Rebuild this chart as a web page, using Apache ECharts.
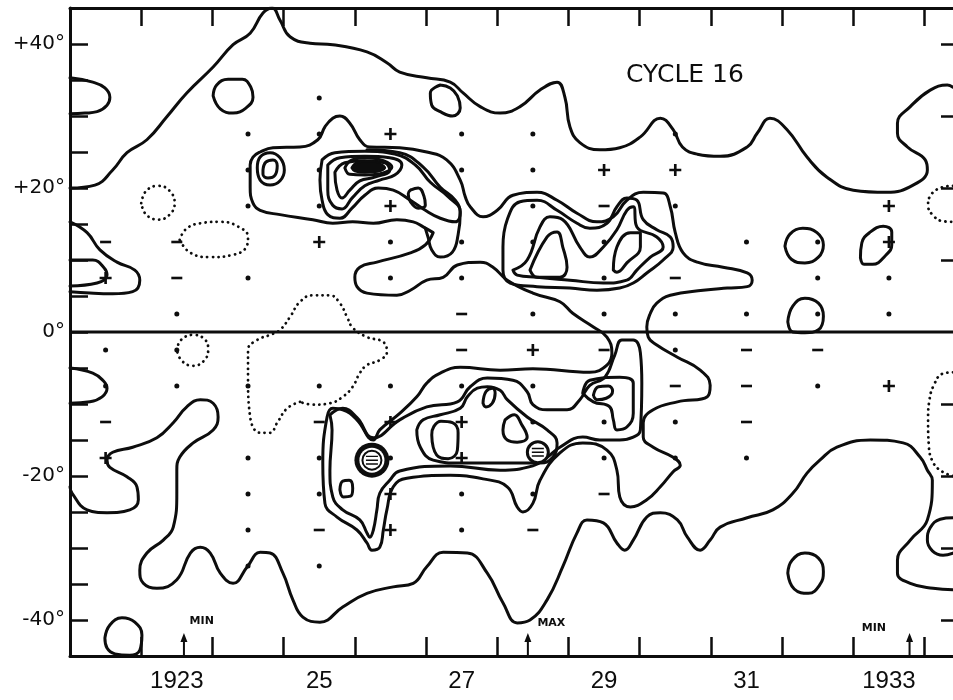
<!DOCTYPE html>
<html lang="en">
<head>
<meta charset="utf-8">
<title>Cycle 16</title>
<script src="https://cdn.jsdelivr.net/npm/echarts@6/dist/echarts.min.js"></script>
<style>
  html, body { margin: 0; padding: 0; background: #fff; }
  #chart { width: 953px; height: 700px; }
</style>
</head>
<body>
<div id="chart"></div>
<script>
// ---- axis values ----
var yearTicks = [1923, 1924, 1925, 1926, 1927, 1928, 1929, 1930, 1931, 1932, 1933, 1934];
var yearLabelPos = [1923.5, 1925.5, 1927.5, 1929.5, 1931.5, 1933.5];
var yearLabelText = ['1923', '25', '27', '29', '31', '1933'];
var latLabelPos = [40, 20, 0, -20, -40];
var latLabelText = ['+40°', '+20°', '0°', '-20°', '-40°'];
var rightTicks = [-40, -30, -20, -10, 10, 20, 30, 40];

// ---- solid contours [year, latitude] ----
var northBoundary = [[1922.00,20.0],[1922.35,20.4],[1922.60,22.5],[1922.80,24.9],[1923.08,26.7],[1923.36,29.9],[1923.64,33.2],[1924.01,36.8],[1924.29,39.9],[1924.53,41.5],[1924.71,44.3],[1924.84,45.0],[1924.95,43.3],[1925.09,41.0],[1925.37,40.1],[1925.69,39.9],[1926.17,38.9],[1926.45,37.4],[1926.63,36.1],[1927.01,35.3],[1927.34,34.7],[1927.52,33.2],[1927.76,31.3],[1928.04,30.4],[1928.32,31.3],[1928.60,33.6],[1928.84,34.7],[1928.95,32.6],[1929.02,28.5],[1929.16,26.3],[1929.44,25.3],[1929.72,25.6],[1930.01,27.1],[1930.29,29.7],[1930.47,28.1],[1930.60,25.7],[1930.81,24.7],[1931.13,24.4],[1931.51,25.7],[1931.65,27.6],[1931.83,29.7],[1932.07,28.1],[1932.35,24.3],[1932.63,21.5],[1933.00,19.7],[1933.47,19.4],[1933.84,20.4],[1934.04,22.5],[1934.01,23.9],[1933.76,25.7],[1933.62,27.6],[1933.62,29.0],[1933.80,31.3],[1934.08,33.6],[1934.32,34.3],[1934.40,34.0]];
var lobeTopLeft = [[1922.00,35.3],[1922.32,34.7],[1922.49,33.9],[1922.56,32.6],[1922.52,31.5],[1922.38,30.6],[1922.21,30.4],[1922.00,30.3]];
var loop1924N = [[1924.01,32.8],[1924.06,34.3],[1924.22,35.1],[1924.42,35.1],[1924.54,34.0],[1924.57,32.6],[1924.47,31.1],[1924.29,30.4],[1924.11,31.0],[1924.01,32.8]];
var loop1927N = [[1927.20,34.3],[1927.06,33.2],[1927.08,31.5],[1927.20,30.6],[1927.37,30.0],[1927.48,31.1],[1927.44,32.8],[1927.34,33.9],[1927.20,34.3]];
var lobeLeft10 = [[1922.00,15.3],[1922.24,13.8],[1922.42,11.4],[1922.66,9.7],[1922.91,8.6],[1922.98,7.2],[1922.88,5.6],[1922.60,5.3],[1922.28,5.4],[1922.00,5.6]];
var lobeLeft10In = [[1922.00,10.0],[1922.32,10.0],[1922.48,8.9],[1922.52,7.9],[1922.38,6.8],[1922.00,6.4]];
var butterflyOuter = [[1927.10,13.8],[1926.99,12.1],[1926.78,11.0],[1926.31,9.7],[1926.07,9.0],[1926.00,7.6],[1926.03,6.3],[1926.17,5.4],[1926.59,5.1],[1926.78,5.8],[1927.01,7.2],[1927.24,7.6],[1927.44,9.3],[1927.76,9.7],[1927.94,9.0],[1928.14,7.2],[1928.50,5.4],[1928.88,4.2],[1929.06,2.6],[1929.35,0.7],[1929.54,-0.7],[1929.61,-2.9],[1929.54,-4.6],[1929.30,-5.6],[1928.50,-5.1],[1928.04,-5.3],[1927.48,-4.9],[1927.20,-5.7],[1927.01,-7.1],[1926.87,-9.0],[1926.63,-11.3],[1926.35,-13.6],[1926.26,-15.0],[1926.03,-12.2],[1925.83,-10.8],[1925.69,-10.6],[1925.61,-11.8],[1925.55,-18.2],[1925.58,-23.8],[1925.75,-25.7],[1926.03,-27.5],[1926.17,-29.3],[1926.24,-30.3],[1926.35,-29.9],[1926.40,-27.5],[1926.45,-24.7],[1926.54,-21.5],[1926.73,-20.3],[1927.34,-19.9],[1927.80,-20.4],[1928.14,-21.5],[1928.28,-24.3],[1928.36,-25.0],[1928.50,-23.8],[1928.60,-20.6],[1928.88,-16.8],[1929.20,-15.4],[1929.54,-16.4],[1929.68,-19.2],[1929.72,-22.9],[1929.87,-24.3],[1930.10,-23.3],[1930.29,-21.5],[1930.47,-19.4],[1930.57,-18.5],[1930.47,-17.4],[1930.19,-16.0],[1930.05,-14.6],[1930.05,-12.6],[1930.19,-10.8],[1930.53,-9.7],[1930.95,-9.0],[1930.99,-7.4],[1930.85,-5.3],[1930.53,-3.5],[1930.24,-1.8],[1930.12,-0.7],[1930.10,0.7],[1930.15,2.6],[1930.24,4.0],[1930.43,5.1],[1930.89,5.8],[1931.23,6.1],[1931.51,6.3],[1931.58,7.2],[1931.51,8.2],[1931.17,9.0],[1930.81,9.7],[1930.61,11.0],[1930.50,13.8],[1930.43,17.4],[1930.33,19.3],[1930.05,19.4],[1929.82,18.3],[1929.63,16.0],[1929.40,15.3],[1929.12,16.5],[1928.84,18.3],[1928.56,19.4],[1928.22,19.0],[1928.00,16.9],[1927.80,16.0],[1927.62,17.4],[1927.55,18.8],[1927.48,21.1],[1927.29,23.9],[1927.01,25.0],[1926.63,25.6],[1926.21,25.7],[1926.07,26.7],[1925.93,29.0],[1925.79,30.0],[1925.69,29.7],[1925.58,28.5],[1925.48,26.7],[1925.23,25.7],[1924.85,25.6],[1924.67,25.0],[1924.57,24.3],[1924.53,23.2],[1924.53,20.1],[1924.57,17.9],[1924.67,16.9],[1924.95,16.3],[1925.41,15.6],[1925.69,15.1],[1925.97,15.3],[1926.26,15.1],[1926.59,15.6],[1926.82,15.3],[1926.96,14.6],[1927.10,13.8]];
var northTongue = [[1926.17,25.3],[1926.63,24.9],[1926.96,22.9],[1927.20,20.1],[1927.41,18.3],[1927.48,16.5],[1927.45,13.5],[1927.37,11.1],[1927.20,10.4],[1927.08,11.4],[1927.03,13.1],[1926.99,14.4]];
var loop1925Out = [[1924.63,22.8],[1924.67,24.3],[1924.81,24.9],[1924.95,24.2],[1925.01,22.5],[1924.95,21.0],[1924.81,20.4],[1924.67,21.1],[1924.63,22.8]];
var loop1925In = [[1924.71,22.5],[1924.75,23.6],[1924.85,23.9],[1924.91,23.1],[1924.88,21.8],[1924.78,21.4],[1924.71,21.9],[1924.71,22.5]];
var coreN2 = [[1925.54,23.9],[1925.72,24.9],[1926.14,25.1],[1926.56,24.7],[1926.85,23.2],[1927.06,20.8],[1927.31,18.8],[1927.48,16.7],[1927.41,15.3],[1927.20,15.8],[1926.99,16.9],[1926.78,18.3],[1926.54,19.7],[1926.33,20.0],[1926.14,19.0],[1925.96,17.2],[1925.79,15.8],[1925.62,16.3],[1925.54,18.3],[1925.51,21.1],[1925.54,23.9]];
var coreN3 = [[1925.62,23.2],[1925.79,24.2],[1926.14,24.4],[1926.49,24.2],[1926.66,23.2],[1926.56,21.8],[1926.35,21.1],[1926.14,20.3],[1925.96,18.6],[1925.82,17.1],[1925.69,17.6],[1925.62,19.7],[1925.62,23.2]];
var coreN4 = [[1925.72,22.2],[1925.86,23.5],[1926.14,23.8],[1926.42,23.5],[1926.49,22.5],[1926.28,21.5],[1926.07,21.0],[1925.93,19.7],[1925.82,18.6],[1925.75,19.7],[1925.72,22.2]];
var coreK1 = [[1925.86,22.8],[1925.96,23.9],[1926.17,24.2],[1926.40,23.8],[1926.52,22.9],[1926.40,22.1],[1926.14,21.8],[1925.93,21.9],[1925.86,22.8]];
var coreK2 = [[1925.96,22.8],[1926.04,23.5],[1926.19,23.6],[1926.35,23.3],[1926.41,22.8],[1926.33,22.4],[1926.14,22.2],[1926.00,22.4],[1925.96,22.8]];
var coreK3 = [[1926.04,22.8],[1926.16,23.2],[1926.30,23.1],[1926.33,22.8],[1926.21,22.5],[1926.07,22.5],[1926.04,22.8]];
var loop1927Core = [[1926.78,19.7],[1926.89,20.0],[1926.97,18.9],[1926.99,17.6],[1926.89,17.2],[1926.78,18.1],[1926.75,19.2],[1926.78,19.7]];
var midN2 = [[1928.08,11.8],[1928.14,15.6],[1928.32,18.1],[1928.56,18.3],[1928.84,16.9],[1929.12,15.1],[1929.30,14.4],[1929.54,15.1],[1929.68,17.4],[1929.82,18.6],[1929.96,18.3],[1930.05,15.6],[1930.24,14.2],[1930.43,13.2],[1930.47,11.8],[1930.33,10.0],[1930.10,8.2],[1929.91,6.8],[1929.72,6.1],[1929.40,5.8],[1929.02,6.1],[1928.56,6.3],[1928.18,6.8],[1928.08,8.6],[1928.08,11.8]];
var midN3 = [[1928.22,8.6],[1928.42,10.0],[1928.60,14.6],[1928.74,16.0],[1928.92,15.6],[1929.16,11.8],[1929.30,10.4],[1929.49,11.8],[1929.68,14.2],[1929.82,16.9],[1929.91,17.4],[1929.96,14.6],[1930.24,13.2],[1930.33,11.8],[1930.15,10.4],[1929.96,8.6],[1929.82,7.2],[1929.49,6.8],[1929.02,7.2],[1928.56,7.6],[1928.28,7.9],[1928.22,8.6]];
var midInnerA = [[1928.46,8.6],[1928.70,13.2],[1928.84,13.9],[1928.92,11.8],[1928.98,9.0],[1928.88,7.6],[1928.56,7.6],[1928.46,8.6]];
var midInnerB = [[1929.63,8.6],[1929.68,11.8],[1929.87,13.8],[1930.01,13.8],[1930.01,11.8],[1929.82,9.6],[1929.68,8.3],[1929.63,8.6]];
var loop1932N = [[1932.04,11.9],[1932.11,13.6],[1932.29,14.4],[1932.49,13.8],[1932.58,12.1],[1932.51,10.4],[1932.32,9.6],[1932.13,10.1],[1932.04,11.9]];
var loop1933N = [[1933.10,10.3],[1933.12,12.4],[1933.24,13.9],[1933.42,14.7],[1933.54,13.9],[1933.54,12.1],[1933.45,10.6],[1933.27,9.4],[1933.15,9.4],[1933.10,10.3]];
var loopEquator = [[1932.08,1.4],[1932.15,3.6],[1932.32,4.7],[1932.51,4.0],[1932.58,2.2],[1932.51,0.3],[1932.32,-0.1],[1932.15,0.0],[1932.08,1.4]];
var lobeLeftS5 = [[1922.00,-5.0],[1922.32,-5.7],[1922.46,-6.7],[1922.52,-7.8],[1922.45,-9.0],[1922.28,-9.7],[1922.00,-9.9]];
var southBoundary = [[1922.00,-21.5],[1922.03,-22.4],[1922.24,-24.7],[1922.52,-25.1],[1922.84,-24.7],[1922.96,-23.3],[1922.94,-21.5],[1922.80,-20.1],[1922.56,-18.8],[1922.52,-17.8],[1922.60,-16.7],[1922.88,-16.0],[1923.22,-14.7],[1923.45,-12.6],[1923.64,-10.4],[1923.83,-9.4],[1924.01,-9.9],[1924.08,-11.8],[1924.01,-13.6],[1923.73,-15.4],[1923.54,-17.4],[1923.50,-19.2],[1923.50,-22.4],[1923.45,-27.1],[1923.31,-28.9],[1923.08,-30.7],[1922.98,-33.1],[1923.03,-34.9],[1923.22,-35.6],[1923.50,-34.4],[1923.69,-30.7],[1923.83,-29.9],[1923.97,-30.7],[1924.11,-33.5],[1924.29,-34.9],[1924.49,-32.6],[1924.67,-30.6],[1924.81,-30.7],[1924.99,-33.5],[1925.13,-37.2],[1925.27,-39.6],[1925.51,-40.3],[1925.83,-38.2],[1926.17,-36.3],[1926.54,-35.4],[1926.82,-34.9],[1927.01,-32.6],[1927.24,-30.6],[1927.58,-30.7],[1927.86,-33.5],[1928.08,-37.6],[1928.28,-40.4],[1928.46,-40.0],[1928.70,-37.2],[1928.92,-32.6],[1929.12,-27.9],[1929.26,-26.1],[1929.49,-26.5],[1929.68,-29.3],[1929.79,-30.3],[1929.91,-28.9],[1930.10,-25.7],[1930.29,-25.1],[1930.53,-26.1],[1930.67,-28.5],[1930.85,-30.3],[1930.99,-28.9],[1931.13,-27.1],[1931.51,-25.8],[1931.87,-24.7],[1932.15,-22.4],[1932.35,-19.6],[1932.53,-17.8],[1932.77,-16.0],[1933.24,-15.0],[1933.70,-15.4],[1933.94,-17.4],[1934.04,-19.2],[1934.11,-20.6],[1934.04,-26.1],[1933.80,-28.9],[1933.62,-31.7],[1933.62,-33.5],[1933.80,-34.9],[1934.12,-35.6],[1934.40,-35.8]];
var loop1922S = [[1922.49,-42.5],[1922.56,-40.7],[1922.73,-39.7],[1922.91,-40.3],[1923.01,-42.1],[1922.98,-44.2],[1922.84,-44.9],[1922.63,-44.7],[1922.52,-43.9],[1922.49,-42.5]];
var loop1932S = [[1932.08,-33.5],[1932.14,-31.7],[1932.32,-30.7],[1932.51,-31.4],[1932.58,-33.3],[1932.53,-35.1],[1932.37,-36.3],[1932.17,-35.7],[1932.08,-33.5]];
var loopRightS = [[1934.40,-25.8],[1934.22,-26.0],[1934.08,-27.2],[1934.04,-28.9],[1934.11,-30.4],[1934.26,-31.0],[1934.40,-30.7]];
var southL2 = [[1925.65,-11.5],[1925.83,-10.6],[1926.03,-11.9],[1926.26,-14.7],[1926.63,-12.2],[1927.01,-10.4],[1927.44,-9.7],[1927.62,-7.6],[1927.86,-6.4],[1928.22,-6.7],[1928.42,-8.3],[1928.50,-10.1],[1928.70,-10.8],[1928.98,-10.8],[1929.16,-9.4],[1929.30,-7.4],[1929.51,-6.3],[1929.65,-3.2],[1929.75,-1.1],[1929.91,-1.1],[1930.01,-2.9],[1930.03,-7.1],[1930.01,-13.6],[1929.91,-14.6],[1929.72,-15.0],[1929.44,-15.0],[1929.20,-14.6],[1928.88,-16.0],[1928.70,-17.4],[1928.50,-18.6],[1928.04,-19.2],[1927.34,-18.6],[1926.63,-19.3],[1926.49,-20.6],[1926.35,-22.4],[1926.31,-24.7],[1926.26,-27.5],[1926.21,-28.5],[1926.17,-27.9],[1926.07,-26.1],[1925.83,-24.7],[1925.69,-22.9],[1925.65,-19.2],[1925.68,-13.6],[1925.65,-11.5]];
var southL3 = [[1926.87,-13.6],[1926.92,-16.0],[1927.10,-17.8],[1927.48,-18.2],[1928.60,-18.2],[1928.78,-17.4],[1928.84,-15.4],[1928.70,-13.6],[1928.42,-11.8],[1928.14,-9.4],[1928.04,-8.1],[1927.86,-7.6],[1927.72,-7.8],[1927.58,-9.0],[1927.48,-10.6],[1927.20,-11.5],[1926.96,-12.2],[1926.87,-13.6]];
var loop1927S = [[1927.08,-14.3],[1927.11,-13.1],[1927.21,-12.4],[1927.37,-12.6],[1927.45,-14.0],[1927.44,-16.4],[1927.31,-17.6],[1927.15,-17.1],[1927.08,-14.3]];
var loop1927Small = [[1927.80,-9.9],[1927.84,-8.3],[1927.93,-7.8],[1927.97,-8.5],[1927.93,-9.9],[1927.84,-10.4],[1927.80,-9.9]];
var loop1928S = [[1928.11,-12.2],[1928.24,-11.5],[1928.34,-12.8],[1928.42,-14.6],[1928.28,-15.3],[1928.14,-15.0],[1928.08,-13.6],[1928.11,-12.2]];
var loop1925S = [[1925.79,-21.9],[1925.83,-20.7],[1925.92,-20.6],[1925.97,-21.7],[1925.94,-22.8],[1925.84,-22.9],[1925.79,-21.9]];
var southEast3 = [[1929.20,-8.5],[1929.30,-6.7],[1929.72,-6.3],[1929.91,-7.1],[1929.91,-11.3],[1929.82,-13.2],[1929.68,-13.6],[1929.63,-12.2],[1929.58,-10.4],[1929.35,-9.7],[1929.20,-8.5]];
var southEast4 = [[1929.35,-8.8],[1929.42,-7.6],[1929.56,-7.5],[1929.62,-8.2],[1929.53,-9.2],[1929.40,-9.4],[1929.35,-8.8]];

// ---- dotted contours ----
var dotN1923 = [[1923.00,17.9],[1923.07,19.6],[1923.24,20.3],[1923.40,19.6],[1923.47,17.9],[1923.40,16.3],[1923.24,15.6],[1923.07,16.3],[1923.00,17.9]];
var dotN1924 = [[1923.54,12.8],[1923.63,14.3],[1923.83,15.1],[1924.11,15.3],[1924.35,14.7],[1924.50,13.2],[1924.47,11.7],[1924.28,10.7],[1923.97,10.4],[1923.69,11.0],[1923.54,12.8]];
var dotNRight = [[1934.40,20.3],[1934.22,20.0],[1934.08,18.9],[1934.05,17.6],[1934.11,16.3],[1934.25,15.4],[1934.40,15.3]];
var dotEquator1925 = [[1925.23,-9.7],[1925.05,-10.6],[1924.91,-12.6],[1924.81,-14.0],[1924.67,-14.0],[1924.53,-11.8],[1924.50,-6.3],[1924.50,-2.5],[1924.63,-1.1],[1924.81,-0.4],[1924.95,0.3],[1925.09,2.1],[1925.23,4.2],[1925.41,5.1],[1925.65,5.1],[1925.79,4.0],[1925.89,2.1],[1925.97,0.6],[1926.17,-0.7],[1926.40,-1.4],[1926.45,-2.8],[1926.35,-3.9],[1926.17,-4.6],[1926.07,-5.7],[1925.97,-7.6],[1925.83,-9.0],[1925.65,-9.9],[1925.41,-10.1],[1925.23,-9.7]];
var dotS1923 = [[1923.50,-2.5],[1923.56,-1.1],[1923.73,-0.4],[1923.90,-1.1],[1923.94,-2.5],[1923.88,-4.0],[1923.73,-4.7],[1923.57,-4.0],[1923.50,-2.5]];
var dotSRight = [[1934.40,-5.6],[1934.25,-5.8],[1934.13,-7.4],[1934.07,-9.4],[1934.05,-12.2],[1934.06,-15.7],[1934.12,-18.1],[1934.25,-19.4],[1934.40,-20.0]];

var equator = [[1922, 0], [1934.4, 0]];

// ---- grid markers ----
var dotMarks = [[1925.5,32.5],[1924.5,27.5],[1925.5,27.5],[1927.5,27.5],[1928.5,27.5],[1930.5,27.5],[1924.5,22.5],[1925.5,22.5],[1927.5,22.5],[1928.5,22.5],[1924.5,17.5],[1925.5,17.5],[1928.5,17.5],[1930.5,17.5],[1926.5,12.5],[1927.5,12.5],[1928.5,12.5],[1929.5,12.5],[1931.5,12.5],[1932.5,12.5],[1924.5,7.5],[1926.5,7.5],[1927.5,7.5],[1929.5,7.5],[1932.5,7.5],[1933.5,7.5],[1923.5,2.5],[1928.5,2.5],[1929.5,2.5],[1930.5,2.5],[1931.5,2.5],[1932.5,2.5],[1933.5,2.5],[1922.5,-2.5],[1923.5,-2.5],[1930.5,-2.5],[1922.5,-7.5],[1923.5,-7.5],[1924.5,-7.5],[1925.5,-7.5],[1926.5,-7.5],[1927.5,-7.5],[1928.5,-7.5],[1932.5,-7.5],[1928.5,-12.5],[1929.5,-12.5],[1930.5,-12.5],[1924.5,-17.5],[1925.5,-17.5],[1926.5,-17.5],[1929.5,-17.5],[1930.5,-17.5],[1931.5,-17.5],[1924.5,-22.5],[1925.5,-22.5],[1927.5,-22.5],[1928.5,-22.5],[1924.5,-27.5],[1927.5,-27.5],[1924.5,-32.5],[1925.5,-32.5]];
var plusMarks = [[1926.5,27.5],[1929.5,22.5],[1930.5,22.5],[1926.5,17.5],[1933.5,17.5],[1925.5,12.5],[1933.5,12.5],[1922.5,7.5],[1928.5,-2.5],[1933.5,-7.5],[1926.5,-12.5],[1927.5,-12.5],[1922.5,-17.5],[1927.5,-17.5],[1926.5,-22.5],[1926.5,-27.5]];
var minusMarks = [[1929.5,17.5],[1922.5,12.5],[1923.5,12.5],[1923.5,7.5],[1930.5,7.5],[1927.5,2.5],[1927.5,-2.5],[1929.5,-2.5],[1931.5,-2.5],[1932.5,-2.5],[1930.5,-7.5],[1931.5,-7.5],[1922.5,-12.5],[1925.5,-12.5],[1931.5,-12.5],[1929.5,-22.5],[1925.5,-27.5],[1928.5,-27.5]];
var coreKnot = [[1926.2, 22.8]];
var spotBig = [[1926.24, -17.8]];
var spotSmall = [[1928.57, -16.7]];

// ---- cycle epochs ----
var epochArrows = [[1923.6, -43.4], [1928.43, -43.4], [1933.79, -43.4]];
var epochNames = [[1923.85, -40.2, 'MIN'], [1928.76, -40.5, 'MAX'], [1933.29, -41.2, 'MIN']];

var INK = '#0d0d0d';

var solidContours = [northBoundary, lobeTopLeft, loop1924N, loop1927N, lobeLeft10, lobeLeft10In,
  butterflyOuter, northTongue, loop1925Out, loop1925In, coreN2, coreN3, coreN4, coreK1, coreK2, coreK3,
  loop1927Core, midN2, midN3, midInnerA, midInnerB, loop1932N, loop1933N, loopEquator, lobeLeftS5,
  southBoundary, loop1922S, loop1932S, loopRightS, southL2, southL3, loop1927S, loop1927Small,
  loop1928S, loop1925S, southEast3, southEast4];
var dottedContours = [dotN1923, dotN1924, dotNRight, dotEquator1925, dotS1923, dotSRight];

var series = [];
solidContours.forEach(function (pts) {
  series.push({
    type: 'line', data: pts, smooth: 0.45, symbol: 'none', silent: true, z: 3,
    lineStyle: { color: INK, width: 3, join: 'round', cap: 'round' }
  });
});
dottedContours.forEach(function (pts) {
  series.push({
    type: 'line', data: pts, smooth: 0.45, symbol: 'none', silent: true, z: 3,
    lineStyle: { color: INK, width: 2.8, type: [0.1, 5.5], cap: 'round' }
  });
});
series.push({
  type: 'line', data: equator, symbol: 'none', silent: true, z: 4,
  lineStyle: { color: INK, width: 3.2 }
});

function marks(data, symbol, size, z, style) {
  return { type: 'scatter', data: data, symbol: symbol, symbolSize: size, silent: true, z: z,
    itemStyle: Object.assign({ color: INK, opacity: 1 }, style || {}) };
}

// dense core of the northern wing
series.push(marks(coreKnot, 'circle', [34, 11], 4));

// grid markers
series.push(marks(dotMarks, 'circle', 5, 5));
series.push(marks(plusMarks, 'path://M3.9,0H6.1V3.9H10V6.1H6.1V10H3.9V6.1H0V3.9H3.9Z', 12, 5));
series.push(marks(minusMarks, 'rect', [11, 2.6], 5));

// circled spots
var hatch = 'path://M0,0H10V1.3H0Z M0,3.35H10V4.65H0Z M0,6.7H10V8H0Z';
series.push(marks(spotBig, 'circle', 35, 6));
series.push(marks(spotBig, 'circle', 25, 7, { color: '#fff' }));
series.push(marks(spotBig, 'circle', 19, 8, { color: '#fff', borderColor: INK, borderWidth: 2 }));
series.push(marks(spotSmall, 'circle', 21, 7, { color: '#fff', borderColor: INK, borderWidth: 3 }));
series.push(marks(spotBig.concat(spotSmall), hatch, [12, 9], 9));

// epoch arrows and names
series.push(marks(epochArrows, 'path://M3.5,0L7,9H4.5V23H2.5V9H0Z', [7, 23], 5));
series.push({ type: 'scatter', data: epochNames, symbolSize: 0, silent: true, z: 5,
  itemStyle: { opacity: 1 },
  label: { show: true, position: 'inside', formatter: function (p) { return p.value[2]; },
    color: INK, fontFamily: 'DejaVu Sans', fontWeight: 'bold', fontSize: 11 } });

var axisLine = { show: true, onZero: false, lineStyle: { color: INK, width: 3 } };
var option = {
  backgroundColor: '#fff',
  animation: false,
  title: {
    text: 'CYCLE 16', left: 621, top: 58,
    textStyle: { color: INK, fontFamily: 'DejaVu Sans', fontWeight: 'normal', fontSize: 25 }
  },
  grid: { left: 70, right: 0, top: 8, bottom: 44 },
  xAxis: [{
    type: 'value', position: 'bottom', min: 1922, max: 1934.4,
    axisLine: axisLine, splitLine: { show: false },
    axisTick: { show: true, inside: true, length: 19, customValues: yearTicks,
      lineStyle: { color: INK, width: 2.5 } },
    axisLabel: { show: true, customValues: yearLabelPos, margin: 13,
      formatter: function (v) { var i = yearLabelPos.indexOf(v); return i >= 0 ? yearLabelText[i] : ''; },
      color: INK, fontFamily: 'Liberation Sans', fontSize: 24 }
  }, {
    type: 'value', position: 'top', min: 1922, max: 1934.4,
    axisLine: axisLine, splitLine: { show: false },
    axisTick: { show: true, inside: true, length: 18, customValues: yearTicks,
      lineStyle: { color: INK, width: 2.5 } },
    axisLabel: { show: false }
  }],
  yAxis: [{
    type: 'value', position: 'left', min: -45, max: 45, interval: 5,
    axisLine: axisLine, splitLine: { show: false },
    axisTick: { show: true, inside: true, length: 18, lineStyle: { color: INK, width: 2.5 } },
    axisLabel: { show: true, margin: 5, customValues: latLabelPos,
      formatter: function (v) { var i = latLabelPos.indexOf(v); return i >= 0 ? latLabelText[i] : ''; },
      color: INK, fontFamily: 'DejaVu Sans', fontSize: 20 }
  }, {
    type: 'value', position: 'right', min: -45, max: 45, interval: 5,
    axisLine: { show: false, onZero: false }, splitLine: { show: false },
    axisTick: { show: true, inside: true, length: 12, customValues: rightTicks,
      lineStyle: { color: INK, width: 2.5 } },
    axisLabel: { show: false }
  }],
  series: series
};

var chart = echarts.init(document.getElementById('chart'), null, { renderer: 'canvas' });
chart.setOption(option);
</script>
</body>
</html>
